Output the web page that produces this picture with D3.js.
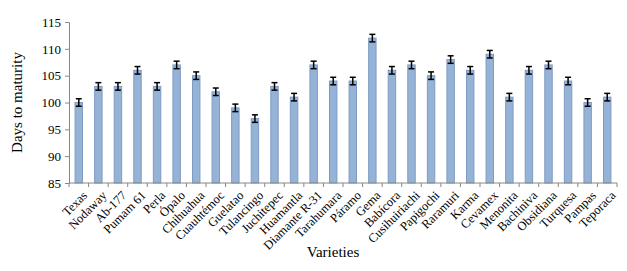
<!DOCTYPE html>
<html lang="en">
<head>
    <meta charset="UTF-8">
    <title>Days to maturity by variety</title>
    <script src="https://d3js.org/d3.v7.min.js"></script>
    <style>
        body { margin: 0; background: #fff; }
        text { font-family: "Liberation Serif", "Times New Roman", serif; fill: #000; }
    </style>
</head>
<body>
    <svg width="627" height="271"></svg>
    <script>
        const width = 627, height = 271;
        const margin = { top: 22, right: 10, bottom: 88, left: 69 };

        // varieties on the x axis
        const varieties = ["Texas", "Nodaway", "Ab-177", "Pumam 61", "Perla", "Ópalo", "Chihuahua",
            "Cuauhtémoc", "Guelatao", "Tulancingo", "Juchitepec", "Huamantla", "Diamante R-31",
            "Tarahumara", "Páramo", "Gema", "Babícora", "Cusihuiriachi", "Papigochi", "Raramuri",
            "Karma", "Cevamex", "Menonita", "Bachiniva", "Obsidiana", "Turquesa", "Pampas", "Teporaca"];
        // days to maturity (mean)
        const days = [100, 103, 103, 106, 103, 107, 105, 102, 99, 97, 103, 101, 107, 104, 104, 112,
            106, 107, 105, 108, 106, 109, 101, 106, 107, 104, 100, 101];
        // error bar half width
        const errors = [0.7, 0.7, 0.7, 0.7, 0.7, 0.7, 0.7, 0.7, 0.7, 0.7, 0.7, 0.7, 0.7, 0.7, 0.7, 0.7,
            0.7, 0.7, 0.7, 0.7, 0.7, 0.7, 0.7, 0.7, 0.7, 0.7, 0.7, 0.7];
        const yTicks = [85, 90, 95, 100, 105, 110, 115];

        const data = varieties.map((v, i) => ({ name: v, value: days[i], err: errors[i] }));

        const svg = d3.select("svg");
        const x = d3.scaleBand().domain(varieties).range([margin.left, width - margin.right]).paddingInner(0.62).paddingOuter(0.31);
        const xBand = d3.scaleBand().domain(varieties).range([margin.left, width - margin.right]);
        const y = d3.scaleLinear().domain([85, 115]).range([height - margin.bottom, margin.top]);

        // bars
        svg.append("g")
            .selectAll("rect")
            .data(data)
            .enter().append("rect")
            .attr("x", d => x(d.name))
            .attr("y", d => y(d.value))
            .attr("width", x.bandwidth())
            .attr("height", d => y(85) - y(d.value))
            .attr("fill", "#95b3d7")
            .attr("stroke", "#7f9bc2")
            .attr("stroke-width", 1);

        // error bars
        const eb = svg.append("g").attr("stroke", "#000").attr("stroke-width", 1.5);
        data.forEach(d => {
            const cx = x(d.name) + x.bandwidth() / 2;
            eb.append("line").attr("x1", cx).attr("x2", cx).attr("y1", y(d.value - d.err)).attr("y2", y(d.value + d.err));
            eb.append("line").attr("x1", cx - 3).attr("x2", cx + 3).attr("y1", y(d.value + d.err)).attr("y2", y(d.value + d.err));
            eb.append("line").attr("x1", cx - 3).attr("x2", cx + 3).attr("y1", y(d.value - d.err)).attr("y2", y(d.value - d.err));
        });

        // y axis
        const yAxis = svg.append("g")
            .attr("transform", `translate(${margin.left},0)`)
            .call(d3.axisLeft(y).tickValues(yTicks).tickSize(4).tickPadding(4));
        yAxis.selectAll("line, path").attr("stroke", "#888");
        yAxis.selectAll("text").attr("font-size", 13).style("font-family", "Liberation Serif");

        // x axis with ticks at category boundaries
        const xAxis = svg.append("g").attr("transform", `translate(0,${y(85)})`);
        xAxis.append("line")
            .attr("x1", margin.left).attr("x2", width - margin.right)
            .attr("stroke", "#888");
        xAxis.selectAll(".tk")
            .data(varieties.concat(["__end"]))
            .enter().append("line")
            .attr("x1", (d, i) => i < varieties.length ? xBand(d) : width - margin.right)
            .attr("x2", (d, i) => i < varieties.length ? xBand(d) : width - margin.right)
            .attr("y1", 0).attr("y2", 4)
            .attr("stroke", "#888");
        xAxis.selectAll("text")
            .data(varieties)
            .enter().append("text")
            .attr("transform", d => `translate(${xBand(d) + xBand.bandwidth() / 2 + 3},7) rotate(-45)`)
            .attr("text-anchor", "end")
            .attr("dy", "0.7em")
            .attr("font-size", 12.5)
            .text(d => d);

        // axis titles
        svg.append("text")
            .attr("transform", `translate(22,${(margin.top + y(85)) / 2}) rotate(-90)`)
            .attr("text-anchor", "middle")
            .attr("font-size", 15)
            .text("Days to maturity");
        svg.append("text")
            .attr("x", 333).attr("y", 257)
            .attr("text-anchor", "middle")
            .attr("font-size", 15)
            .text("Varieties");
    </script>
</body>
</html>
